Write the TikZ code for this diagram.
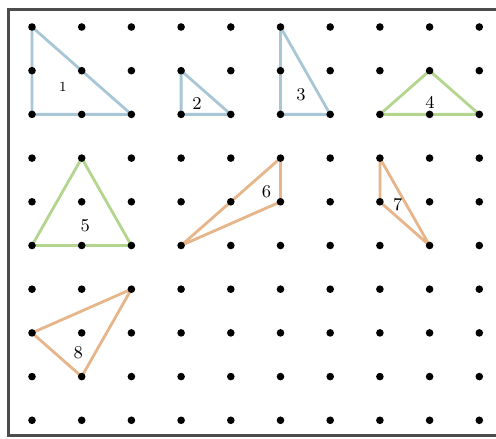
\documentclass[tikz,border=0pt]{standalone}
\usepackage{amsmath}
\usepackage{xcolor}
\usepackage{tikz}
\usetikzlibrary{positioning}
\definecolor{pegblue}{HTML}{A9C6D6}
\definecolor{peggreen}{HTML}{B3D58E}
\definecolor{pegorange}{HTML}{E6B58A}
\tikzset{
  band/.style={line width=1.4pt,line join=round},
  peg/.style={fill=black},
  lab/.style={font=\small,inner sep=1pt}
}
\begin{document}
\begin{tikzpicture}[x=24.85pt,y=-21.85pt]
\useasboundingbox (-0.644,-0.618) rectangle (9.336,9.428);
\fill[white] (-0.644,-0.618) rectangle (9.336,9.428);
%%the board
\draw[line width=1.5pt,gray!60!black] (9.5,-0.389) -- (-0.463,-0.389) -- (-0.463,9.359) -- (9.5,9.359);
\foreach \i in {0,...,9}
  \foreach \j in {0,...,9}
    \path (\i,\j) coordinate (p\i\j);
%%Now for the rubber bands
\draw[band,pegblue] (p00) -- (p02) -- (p22) -- cycle;
\draw[band,pegblue] (p31) -- (p32) -- (p42) -- cycle;
\draw[band,pegblue] (p50) -- (p52) -- (p62) -- cycle;
\draw[band,peggreen] (p72) -- (p81) -- (p92) -- cycle;
\draw[band,peggreen] (p05) -- (p13) -- (p25) -- cycle;
\draw[band,pegorange] (p35) -- (p53) -- (p54) -- cycle;
\draw[band,pegorange] (p73) -- (p74) -- (p85) -- cycle;
\draw[band,pegorange] (p07) -- (p26) -- (p18) -- cycle;
%%the pegs
\foreach \i in {0,...,9}
  \foreach \j in {0,...,9}
    \fill[peg] (p\i\j) circle (1.9pt);
%%finally the text
\path (0.62,1.37) node[lab,font=\scriptsize] (t1) {1}
(3.32,1.76) node[lab] (t2) {2}
(5.41,1.56) node[lab] (t3) {3}
(8.01,1.72) node[lab] (t4) {4}
(1.07,4.55) node[lab] (t5) {5}
(4.72,3.77) node[lab] (t6) {6}
(7.36,4.07) node[lab] (t7) {7}
(0.93,7.46) node[lab] (t8) {8};
\end{tikzpicture}
\end{document}
